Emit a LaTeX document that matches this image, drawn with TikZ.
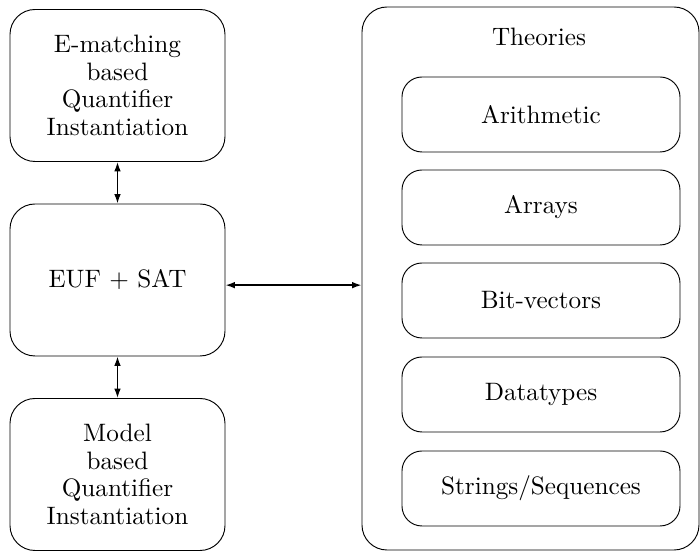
\documentclass[tikz,border=0pt]{standalone}
\usepackage{tikz}
\usetikzlibrary{arrows.meta,positioning}
\tikzset{
  box/.style={draw, rounded corners=3.75mm, align=center, inner sep=4pt,
              font=\fontsize{10.75}{11.85}\selectfont},
  solver/.style={box, minimum width=32.25mm, minimum height=22.8mm},
  theory/.style={box, rounded corners=3mm, minimum width=41.7mm, minimum height=11.25mm},
  flow/.style={{Latex[length=4pt,width=2.8pt]}-{Latex[length=4pt,width=2.8pt]}, semithick},
}
\begin{document}
\begin{tikzpicture}[x=0.15mm, y=-0.15mm]
  \useasboundingbox (0,0) rectangle (700,551);
  % solver core on the left
  \node[solver] (ematch) at (117.5,85.5) {E-matching\\based\\Quantifier\\Instantiation};
  \node[solver] (euf) at (117.5,280) {EUF + SAT};
  \node[solver] (mbqi) at (117.5,474.5) {Model\\based\\Quantifier\\Instantiation};
  % theory solvers on the right
  \node[box, minimum width=50.55mm, minimum height=81.45mm] (theories) at (530.5,278.5) {};
  \node[font=\fontsize{10.75}{11.85}\selectfont] (theolbl) at (539,37) {Theories};
  \foreach \i/\y/\name in {1/114.5/Arithmetic, 2/207.5/Arrays, 3/300.5/Bit-vectors,
      4/394.5/Datatypes, 5/488.5/{Strings/Sequences}}
    \node[theory] (th\i) at (541,\y) {\name};
  \draw[flow] (ematch) -- (euf);
  \draw[flow] (euf) -- (mbqi);
  \draw[flow] ([yshift=-2.2pt]euf.east) -- ([yshift=-2.2pt]euf.east -| theories.west);
\end{tikzpicture}
\end{document}
